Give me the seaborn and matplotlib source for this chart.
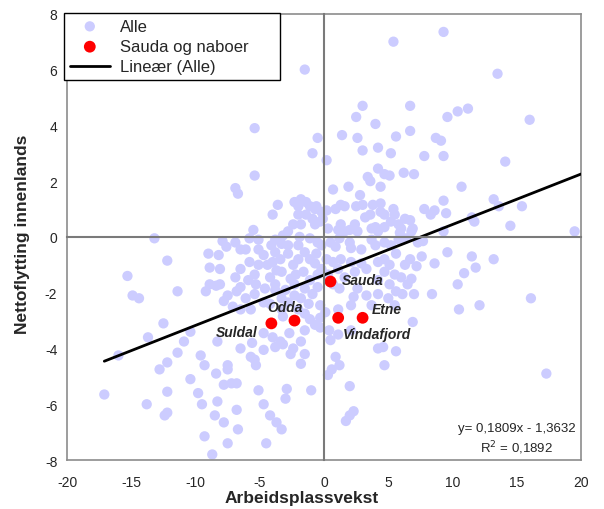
import numpy as np
import matplotlib
matplotlib.use("Agg")
import matplotlib.pyplot as plt
import seaborn as sns

# Alle kommuner: arbeidsplassvekst (x) og nettoflytting innenlands (y)
alle_x = [
    # øvre del
    5.4, -1.5, -5.4, 3.0, 2.5, 4.0, 6.7, -0.5, 1.4, 2.6, 5.6, 6.7, -0.9, 3.0, 4.2, 5.2, 0.2,
    9.3, 13.5, 10.4, 11.2, 9.6, 16.0, 8.7, 9.1, 7.8, 9.3, 14.1,
    # venstre midt
    -6.9, -6.7, -13.2, -7.9, -6.9, -7.6, -6.5, -9.0, -8.2, -12.2, -8.9, -8.1, -15.3,
    -6.9, -8.9, -8.1, -8.4, -11.4, -9.2, -6.8, -14.9, -14.4, -7.5, -7.8, -7.1,
    # venstre nede
    -12.5, -13.7, -10.4, -10.9, -8.3, -16.0, -11.4, -9.6, -12.2, -9.3, -12.8, -7.5,
    -7.5, -8.4, -10.4, -7.8, -7.2, -6.8, -17.1, -12.2, -9.8, -13.8, -9.5, -8.3, -6.8,
    -12.2, -12.4, -8.5, -7.8, -6.7, -9.3, -7.5, -8.7,
    # midt nede
    -0.3, -4.7, -2.7, -4.0, -3.4, -3.2, -3.8, -1.8, -1.5, -0.7, -0.3, -5.6, -6.5, -4.7,
    -2.4, -2.6, -1.5, -5.7, -5.4, -5.3, -1.8, 0.4, 0.5, 1.1, 2.1, 4.2, 4.6, 5.6, 4.7,
    0.9, 1.2, 0.6, 0.3, -5.1, -2.9, -1.0, 2.0, -3.0, -4.7, -4.2, -3.7, -3.3, -4.5, 2.3,
    2.0, 1.7, -3.2, -1.5, -1.1,
    # høyre midt
    7.0, 10.7, 7.8, 8.3, 8.6, 9.3, 9.5, 13.2, 13.6, 15.4, 11.5, 11.7, 14.5, 6.9, 9.3,
    19.5, 7.3, 7.7, 9.6, 11.5, 13.2, 7.6, 7.2, 8.6, 11.8, 10.9, 6.8, 10.4, 7.0, 8.4,
    16.1, 10.5, 12.1, 6.9, 17.3,
    # sentrum
    -5.4, 4.2, 4.7, 5.1, 6.2, 3.4, 3.6, 0.7, 1.9, 4.4, 2.8, 1.3, 1.6, 2.5, 3.8, 4.4,
    5.4, -3.6, -4.0, -2.0, -1.4, -1.1, -0.7, 0.2, -2.0, -1.4, -1.8, -0.7, -2.4, -0.3,
    -0.1, -0.9, 1.3, 1.1, 1.6, 2.0, 2.4, 2.6, 3.7, 4.0, 4.2, 4.7, 5.2, 5.8, 6.0, 5.9,
    4.7, 3.2, -5.5, -5.8, -2.8, -1.9, 0.3, -0.5, 0.5, 1.2, 2.0, 2.1, 3.7, 4.0, 4.7,
    5.8, 6.4, 6.8, -6.1, -5.1, -4.7, -4.1, -3.3, -2.8, -2.0, -1.5, -1.1, -2.0, -3.4,
    -4.0, -4.4, -5.8, -6.5, -5.4, -4.2, -3.3, -2.6, -1.6, -1.1, -0.5, 0.2, 0.7, 1.3,
    1.1, 2.1, 2.9, 3.3, 4.2, 4.7, 5.1, 5.6, 6.3, 6.7, 6.0, 6.5, 5.1, 4.2, 2.6, 2.3,
    3.3, 4.2, 5.0, 3.7, -0.5, -0.9, -1.5, -2.3, -3.0, -3.8, -4.6, -5.3, -5.9, -6.5,
    -6.1, -4.7, -2.8, -1.2, -0.3, 0.1, -6.5, -5.7,
    # sentrum, tett klynge
    -2.3, -1.8, -0.6, -0.2, 0.9, 3.0, 3.6, 4.4, 5.5, 6.3, 6.7, -3.2, -3.8, -5.1,
    -1.1, -0.2, 0.9, 2.9, 5.2, -0.6, -2.8, -3.8, -2.4, -0.7, -0.2, -5.1, -3.7, -2.2,
    0.3, 1.6, 2.4, 4.7, 5.5, -3.8, -2.3, 0.7, 1.2, 5.6, 6.1, -3.3, -1.8, -5.4, -4.2,
    -3.3, -2.0, 2.1, 1.1, 5.5,
]
alle_y = [
    # øvre del
    7.0, 6.0, 3.9, 4.7, 4.3, 4.05, 4.7, 3.55, 3.65, 3.55, 3.6, 3.8, 3.0, 3.1, 3.2, 3.0, 2.75,
    7.35, 5.85, 4.5, 4.6, 4.3, 4.2, 3.55, 3.45, 2.9, 2.9, 2.7,
    # venstre midt
    1.75, 1.55, -0.05, -0.15, -0.2, -0.35, -0.45, -0.6, -0.65, -0.85, -1.1, -1.15, -1.4,
    -1.45, -1.7, -1.7, -1.75, -1.95, -1.95, -1.95, -2.1, -2.2, -2.1, -2.3, -2.5,
    # venstre nede
    -3.1, -3.6, -3.4, -3.75, -3.75, -4.25, -4.15, -4.25, -4.5, -4.6, -4.75, -4.6,
    -4.75, -4.9, -5.1, -5.3, -5.25, -5.25, -5.65, -5.55, -5.6, -6.0, -6.0, -5.9, -6.2,
    -6.3, -6.4, -6.4, -6.65, -6.9, -7.15, -7.4, -7.8,
    # midt nede
    -2.9, -3.45, -3.45, -3.6, -3.75, -3.85, -3.95, -3.75, -3.35, -3.15, -3.25, -3.8, -4.0, -4.05,
    -4.0, -4.2, -4.2, -4.3, -4.4, -4.6, -4.55, -3.35, -3.7, -3.5, -3.35, -4.0, -3.95, -4.1, -4.6,
    -4.3, -4.6, -4.75, -4.95, -5.5, -5.45, -5.5, -5.35, -5.8, -6.0, -6.4, -6.65, -6.9, -7.4, -6.25,
    -6.4, -6.6, -2.85, -2.75, -2.95,
    # høyre midt
    2.25, 1.8, 1.0, 0.8, 0.95, 1.3, 0.85, 1.35, 1.1, 1.1, 0.7, 0.55, 0.4, 0.3, 0.2,
    0.2, -0.2, -0.15, -0.55, -0.7, -0.8, -0.7, -1.05, -0.95, -1.1, -1.3, -1.5, -1.7, -2.05, -2.05,
    -2.2, -2.6, -2.45, -3.05, -4.9,
    # sentrum
    2.2, 2.45, 2.25, 2.2, 2.3, 2.15, 2.0, 1.7, 1.8, 1.8, 1.5, 1.15, 1.1, 1.1, 1.15, 1.2,
    1.0, 1.15, 0.8, 1.1, 1.25, 1.1, 1.0, 0.95, 0.8, 0.8, 0.45, 0.45, 0.45, 0.55,
    0.65, 0.65, 0.45, 0.25, 0.2, 0.25, 0.45, 0.2, 0.3, 0.35, 0.2, 0.35, 0.55, 0.45, 0.3, 0.15,
    0.8, 0.7, 0.25, -0.05, 0.2, 0.0, 0.3, -0.2, -0.2, -0.05, -0.2, -0.4, -0.1, -0.3, -0.2,
    -0.1, -0.05, 0.2, -0.45, -0.45, -0.65, -0.3, -0.25, -0.3, -0.3, -0.55, -0.8, -0.8, -0.8,
    -0.9, -1.0, -0.9, -1.15, -1.35, -1.45, -1.25, -1.5, -1.25, -1.55, -1.35, -0.8, -0.9, -0.8,
    -1.15, -0.9, -0.95, -1.15, -0.9, -0.8, -1.0, -0.6, -1.0, -0.8, -1.45, -1.7, -1.7, -1.55, -1.85, -2.15,
    -2.1, -2.05, -2.2, -2.45, -1.8, -2.05, -1.85, -2.1, -1.9, -1.9, -1.85, -1.7, -1.55, -1.8,
    -2.2, -2.35, -2.35, -2.4, -2.45, -2.7, -2.6, -2.6,
    # sentrum, tett klynge
    1.25, 1.35, 1.1, 0.9, 1.0, 1.15, 0.8, 0.9, 0.8, 0.65, 0.6, 0.05, -0.1, -0.1,
    -0.05, -0.3, -0.35, -0.45, -0.3, -0.6, -0.6, -0.55, -1.0, -0.95, -1.15, -1.0, -1.2, -1.35,
    -1.35, -1.45, -1.25, -1.25, -1.35, -1.7, -1.7, -1.7, -1.85, -1.95, -2.05, -2.2, -2.2, -2.05, -2.4,
    -2.6, -2.6, -2.45, -2.6, -2.45,
]

# Sauda og nabokommuner
naboer = ["Sauda", "Odda", "Suldal", "Etne", "Vindafjord"]
naboer_x = [0.5, -2.3, -4.1, 3.0, 1.1]
naboer_y = [-1.6, -3.0, -3.1, -2.9, -2.9]

# Lineær trendlinje (Excel)
slope = 0.1809
intercept = -1.3632
r2 = 0.1892

x_ticks = list(range(-20, 21, 5))
y_ticks = list(range(-8, 9, 2))

sns.set_style("white")
plt.rcParams['font.family'] = ['Liberation Sans', 'DejaVu Sans']
plt.rcParams['axes.unicode_minus'] = False

fig = plt.figure(figsize=(6.04, 5.10), dpi=100)
rect = [0.111, 0.096, 0.851, 0.875]
ax = fig.add_axes(rect)

sns.scatterplot(x=alle_x, y=alle_y, color='#CCCCFF', s=55, edgecolor='none',
                linewidth=0, label='Alle', ax=ax, zorder=2)
sns.scatterplot(x=naboer_x, y=naboer_y, color='#FF0000', s=72, edgecolor='none',
                linewidth=0, label='Sauda og naboer', ax=ax, zorder=4)

x_line = np.array([min(alle_x), x_ticks[-1]])
ax.plot(x_line, slope * x_line + intercept, color='black', lw=2,
        label='Lineær (Alle)', zorder=3)

ax.set_xlim(x_ticks[0], x_ticks[-1])
ax.set_ylim(y_ticks[0], y_ticks[-1])
ax.set_xticks(x_ticks)
ax.set_yticks(y_ticks)
ax.tick_params(axis='both', length=0, labelsize=10)
ax.tick_params(axis='x', pad=11)
ax.tick_params(axis='y', pad=7)
for sp in ax.spines.values():
    sp.set_color('#8c8c8c')
    sp.set_linewidth(1.2)

ax.set_xlabel('Arbeidsplassvekst', fontsize=12.5, fontweight='bold')
ax.set_ylabel('Nettoflytting innenlands', fontsize=12.5, fontweight='bold')
ax.xaxis.set_label_coords(0.457, -0.084)
ax.xaxis.label.set_va('center')
ax.yaxis.set_label_coords(-0.0875, 0.507)
ax.yaxis.label.set_va('center')

# navn på kommunene
offsets = {
    "Sauda": (8, 1, 'left'),
    "Odda": (-7, 10, 'center'),
    "Suldal": (-10, -6, 'right'),
    "Etne": (6.5, 6, 'left'),
    "Vindafjord": (3.5, -12, 'left'),
}
for name, x, y in zip(naboer, naboer_x, naboer_y):
    dx, dy, ha = offsets[name]
    ax.annotate(name, (x, y), xytext=(dx, dy), textcoords='offset points',
                ha=ha, va='center', fontsize=10, fontweight='bold',
                fontstyle='italic', zorder=5)

eq = f"y= {slope:.4f}x - {abs(intercept):.4f}".replace('.', ',')
ax.text(0.875, 0.072, eq, transform=ax.transAxes, ha='center', va='center', fontsize=9.5)
ax.text(0.875, 0.029, f"R$^2$ = {r2:.4f}".replace('.', ','), transform=ax.transAxes,
        ha='center', va='center', fontsize=9.5)

leg = ax.legend(loc='upper left', bbox_to_anchor=(-0.006, 0.85, 0.42, 0.152),
                mode='expand', borderaxespad=0,
                frameon=True, fancybox=False, edgecolor='black', framealpha=1,
                fontsize=12, handlelength=2.4, handletextpad=0.6, borderpad=0.35,
                labelspacing=0.32)
leg.get_frame().set_linewidth(1)
leg.set_zorder(6)

# akser gjennom origo med tick-merker
ax0 = fig.add_axes(rect, sharex=ax, sharey=ax)
ax0.patch.set_alpha(0)
ax0.grid(False)
ax0.spines['top'].set_visible(False)
ax0.spines['right'].set_visible(False)
for side in ['left', 'bottom']:
    ax0.spines[side].set_position(('data', 0))
    ax0.spines[side].set_color('#7a7a7a')
    ax0.spines[side].set_linewidth(1.5)
ax0.tick_params(axis='both', direction='out', length=4, width=1, color='#7a7a7a',
                labelleft=False, labelbottom=False)

fig.savefig('out.png', dpi=100)
